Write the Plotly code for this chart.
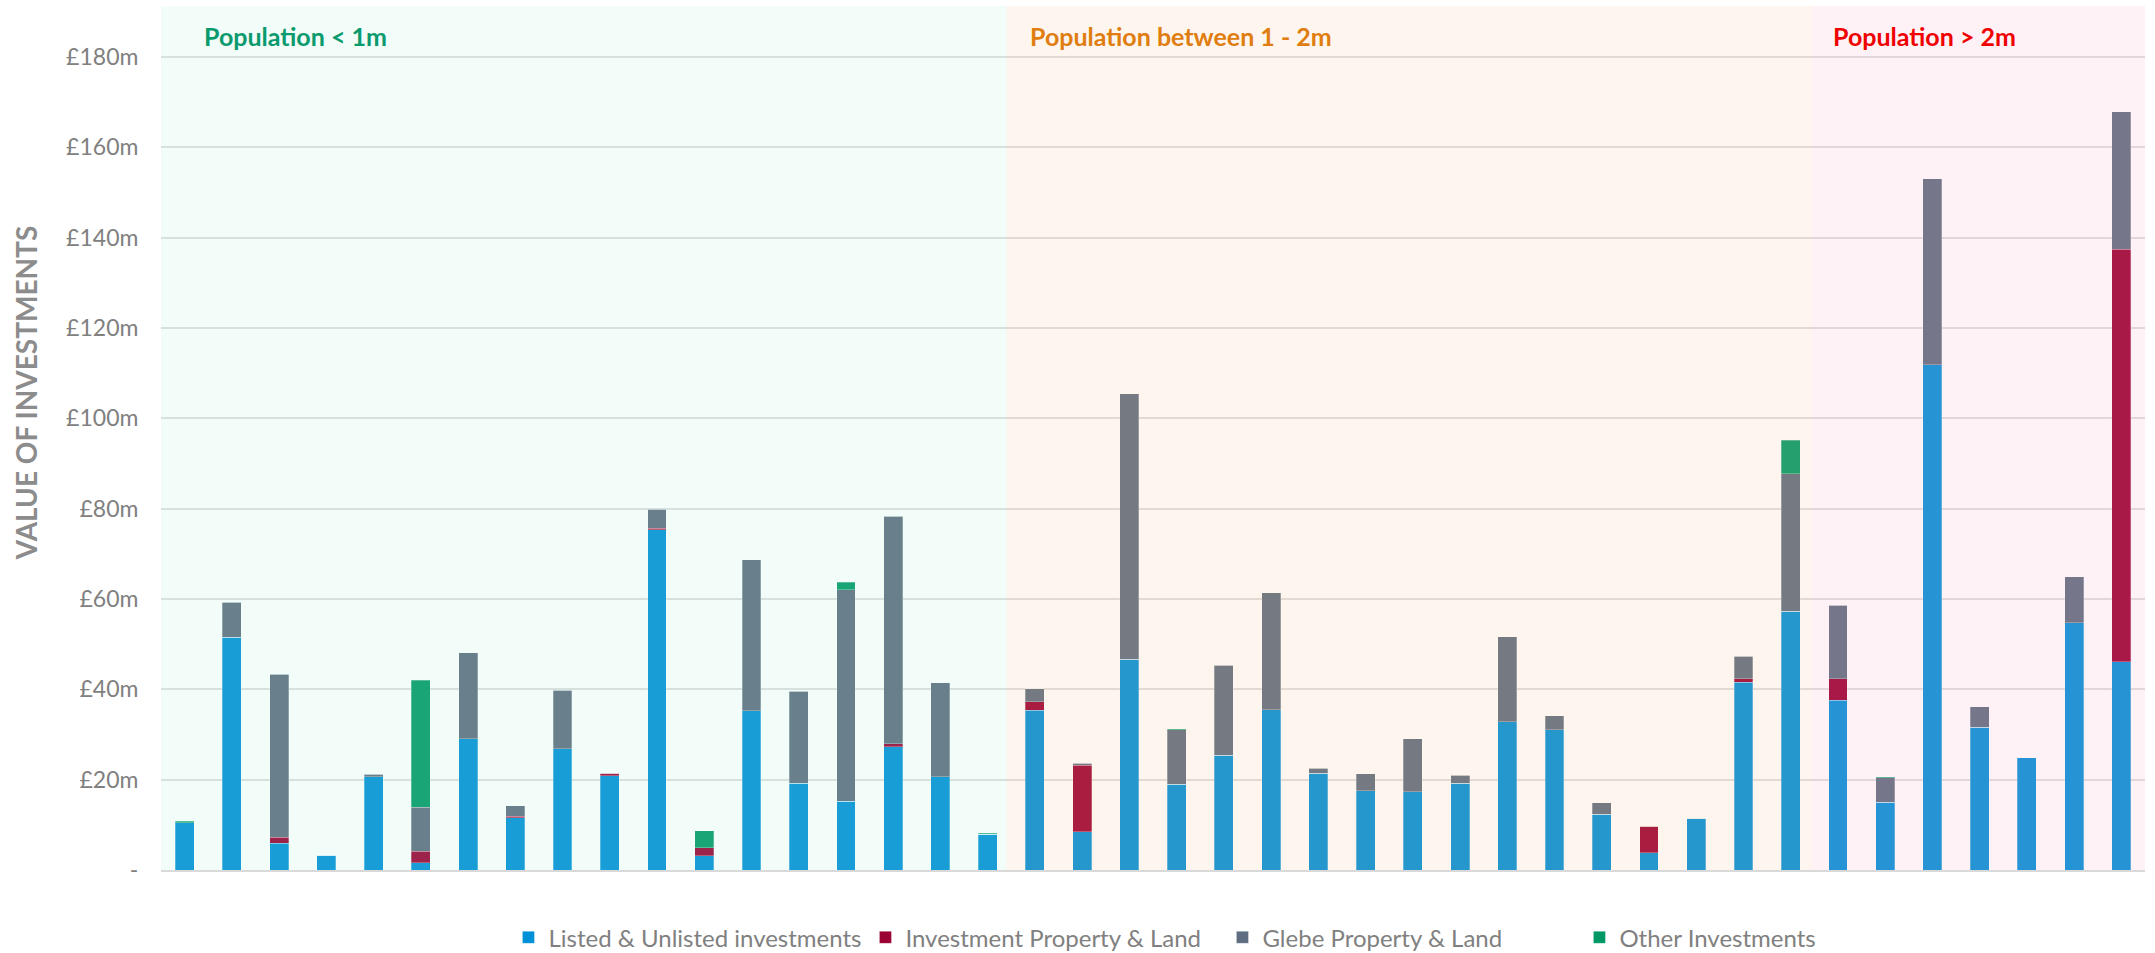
import plotly.graph_objects as go

# Entities ordered by population band; the x axis carries no labels
entities = [str(i) for i in range(1, 43)]
bands = ["Population < 1m", "Population between 1 - 2m", "Population > 2m"]
band_sizes = [18, 17, 7]

# Values in £m
listed = [10.5, 51.5, 5.9, 3.3, 20.7, 1.6, 29.1, 11.6, 26.8, 20.9, 75.3, 3.2,
          35.3, 19.2, 15.2, 27.3, 20.7, 7.9,
          35.4, 8.5, 46.7, 19.0, 25.4, 35.5, 21.4, 17.6, 17.3, 19.2, 32.8, 31.0,
          12.3, 3.8, 11.5, 41.6, 57.3,
          37.6, 15.0, 111.9, 31.6, 24.9, 54.8, 46.1]
inv_property = [0, 0, 1.3, 0, 0, 2.5, 0, 0.3, 0, 0.5, 0.4, 1.7,
                0, 0, 0, 0.7, 0, 0,
                1.9, 14.7, 0, 0, 0, 0, 0, 0, 0, 0, 0, 0,
                0, 5.9, 0, 0.7, 0,
                4.8, 0, 0, 0, 0, 0, 91.3]
glebe = [0, 7.8, 36.1, 0, 0.5, 9.8, 19.0, 2.3, 13.0, 0, 4.2, 0,
         33.4, 20.4, 46.9, 50.3, 20.8, 0,
         2.8, 0.4, 58.8, 12.1, 19.9, 25.9, 1.1, 3.7, 11.8, 1.8, 18.8, 3.1,
         2.6, 0, 0, 5.0, 30.4,
         16.2, 5.4, 41.1, 4.5, 0, 10.1, 30.5]
other = [0.3, 0, 0, 0, 0, 28.1, 0, 0, 0, 0, 0, 3.8,
         0, 0, 1.6, 0, 0, 0.2,
         0, 0, 0, 0.2, 0, 0, 0, 0, 0, 0, 0, 0,
         0, 0, 0, 0, 7.5,
         0, 0.2, 0, 0, 0, 0, 0]

series = [
    ("Listed & Unlisted investments", listed, "#0090D8"),
    ("Investment Property & Land", inv_property, "#9B0033"),
    ("Glebe Property & Land", glebe, "#5E6E80"),
    ("Other Investments", other, "#009966"),
]

tick_vals = [0, 20, 40, 60, 80, 100, 120, 140, 160, 180]
tick_text = ["-", "£20m", "£40m", "£60m", "£80m", "£100m", "£120m", "£140m", "£160m", "£180m"]

FONT = "Lato, 'Open Sans', sans-serif"
GREY = "#808080"

fig = go.Figure()
for name, vals, color in series:
    fig.add_trace(go.Bar(
        x=list(range(len(entities))), y=vals, name=name,
        marker=dict(color=color, line=dict(color="rgba(255,255,255,0.35)", width=0.8)),
        customdata=entities,
        hovertemplate="%{customdata}: £%{y}m<extra>" + name + "</extra>",
    ))

# Translucent band tints laid over the bars
tints = ["rgba(168,235,208,0.15)", "rgba(248,195,142,0.15)", "rgba(248,169,195,0.15)"]
label_colors = ["#0A9A6E", "#E07D10", "#F00000"]
edges = [-0.5, 17.4, 34.46, 41.5]
label_x = [0.36, 17.85, 34.86]
for i, band in enumerate(bands):
    fig.add_shape(type="rect", xref="x", yref="paper", x0=edges[i], x1=edges[i + 1],
                  y0=0, y1=1, fillcolor=tints[i], line=dict(width=0), layer="above")
    fig.add_annotation(x=label_x[i], y=184.6, xref="x", yref="y", text="<b>" + band + "</b>",
                       showarrow=False, xanchor="left", yanchor="middle",
                       font=dict(family=FONT, size=25, color=label_colors[i]))

fig.add_annotation(text="<b>VALUE OF INVESTMENTS</b>", xref="paper", yref="paper",
                   x=-0.068, y=0.552, xanchor="center", yanchor="middle", textangle=-90,
                   showarrow=False, font=dict(family=FONT, size=28, color="#8C8C8C"))

fig.update_layout(
    width=2155, height=953,
    margin=dict(l=161, r=10, t=6, b=83),
    barmode="stack", bargap=0.6,
    plot_bgcolor="white", paper_bgcolor="white",
    font=dict(family=FONT, size=22, color=GREY),
    showlegend=True,
    legend=dict(orientation="h", xref="paper", x=0.535, xanchor="center",
                yref="container", y=0.016, yanchor="middle",
                font=dict(family=FONT, size=24, color=GREY), itemwidth=30,
                entrywidth=312, traceorder="normal"),
)
fig.update_xaxes(range=[-0.5, 41.5], showticklabels=False, showgrid=False,
                 showline=True, linecolor="#D9D9D9", linewidth=2, zeroline=False, ticks="")
fig.update_yaxes(range=[0, 191.3], tickvals=tick_vals, ticktext=tick_text,
                 showgrid=True, gridcolor="#DEDEDE", gridwidth=2, zeroline=False,
                 ticks="outside", ticklen=17, tickcolor="rgba(0,0,0,0)",
                 tickfont=dict(family=FONT, size=23, color=GREY))

fig.write_html("out.html")
